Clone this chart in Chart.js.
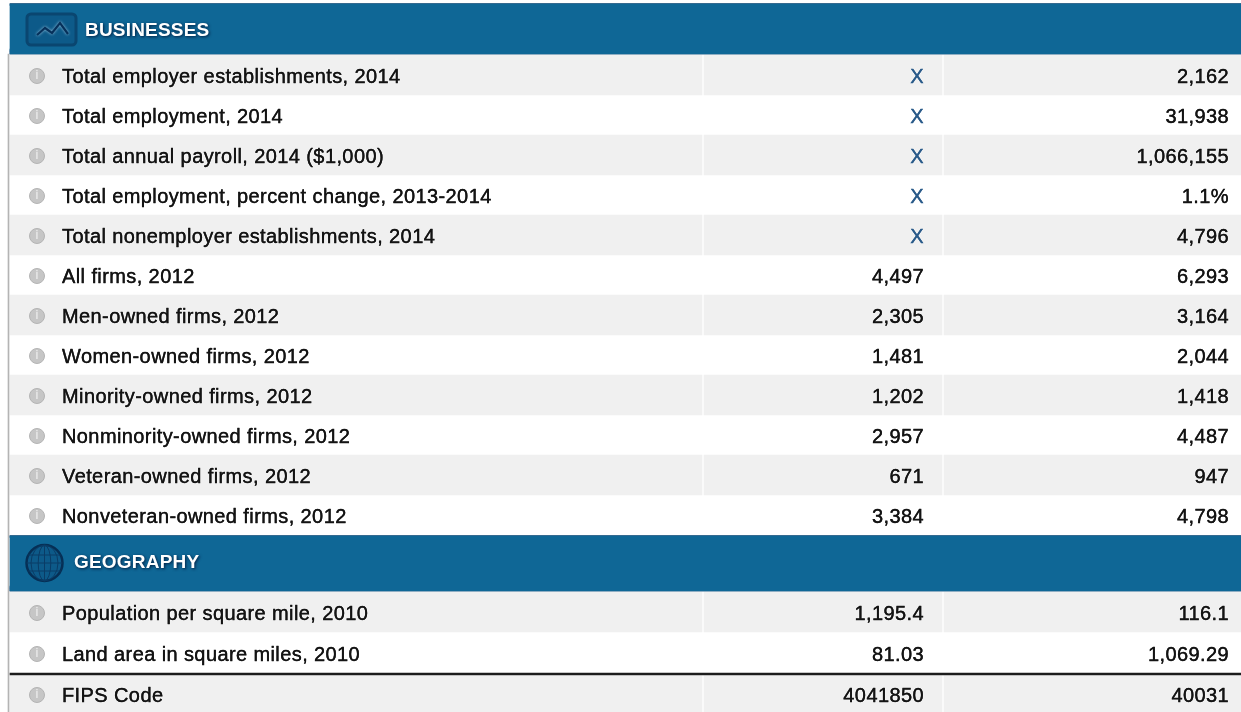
<!DOCTYPE html>
<html>
<head>
<meta charset="utf-8">
<title>Businesses and geography</title>
<script src="https://cdn.jsdelivr.net/npm/chart.js@4"></script>
<style>
    html, body { margin: 0; padding: 0; background: #fff; overflow: hidden; }
    canvas { display: block; filter: blur(0.45px); }
</style>
</head>
<body>
<canvas id="grafico" width="1241" height="712"></canvas>
<script>
// Dati della tabella
const sectionTitles = ['BUSINESSES', 'GEOGRAPHY'];
const rowLabels = [
    'Total employer establishments, 2014',
    'Total employment, 2014',
    'Total annual payroll, 2014 ($1,000)',
    'Total employment, percent change, 2013-2014',
    'Total nonemployer establishments, 2014',
    'All firms, 2012',
    'Men-owned firms, 2012',
    'Women-owned firms, 2012',
    'Minority-owned firms, 2012',
    'Nonminority-owned firms, 2012',
    'Veteran-owned firms, 2012',
    'Nonveteran-owned firms, 2012',
    'Population per square mile, 2010',
    'Land area in square miles, 2010',
    'FIPS Code'
];
const firstValues = ['X', 'X', 'X', 'X', 'X', '4,497', '2,305', '1,481', '1,202', '2,957', '671', '3,384', '1,195.4', '81.03', '4041850'];
const secondValues = ['2,162', '31,938', '1,066,155', '1.1%', '4,796', '6,293', '3,164', '2,044', '1,418', '4,487', '947', '4,798', '116.1', '1,069.29', '40031'];

// Griglia della pagina (unita degli assi = pixel)
const PAGE_W = 1241, PAGE_H = 712;
const ROW_H = 40;
const columns = [[10, 702], [704, 942], [944, PAGE_W]];
const LABEL_X = 62, ICON_X = 37, FIRST_RIGHT = 924, SECOND_RIGHT = 1229;
const headerBands = [{ top: 4, bottom: 54 }, { top: 536, bottom: 591 }];

// Centro verticale di ogni riga
function rowCenter(i) {
    if (i < 12) return 75 + ROW_H * i;
    if (i === 12) return 612;
    if (i === 13) return 653;
    return 694;
}

function bandDataset(rows, thickness, color, order) {
    const data = [];
    rows.forEach(y => columns.forEach(c => data.push({ x: c, y: y })));
    return { type: 'bar', data, barThickness: thickness, backgroundColor: color, grouped: false, order };
}

function fullWidth(y, thickness, color) {
    return {
        type: 'bar', data: [{ x: [10, PAGE_W], y }], barThickness: thickness,
        backgroundColor: color, grouped: false, order: 3
    };
}

const grayRows = [];
rowLabels.forEach((l, i) => { if (i % 2 === 0) grayRows.push(rowCenter(i)); });

const datasets = [
    bandDataset(grayRows.filter(y => y !== rowCenter(14)), ROW_H, '#f0f0f0', 5),
    // ultima riga: piu alta
    bandDataset([rowCenter(14)], 37, '#f0f0f0', 5),
    // riga nera sopra FIPS
    fullWidth(674, 2, '#1c1c1c')
];

// Bande blu con i bordi scuri
headerBands.forEach(b => {
    datasets.push(fullWidth((b.top + b.bottom) / 2, b.bottom - b.top, '#0f6796'));
    datasets.push(fullWidth(b.bottom - 1.5, 3, '#02285a'));
    datasets.push(fullWidth(b.bottom - 4, 2, '#0a4f80'));
    datasets.push(fullWidth(b.top + 0.5, 2, '#033a68'));
});

// Bordo sinistro
datasets.push({
    type: 'bar', data: [{ x: [8, 9], y: 383 }], barThickness: 658,
    backgroundColor: '#b4b4b4', grouped: false, order: 3
});

// Icone informazioni
datasets.push({
    type: 'scatter',
    data: rowLabels.map((l, i) => ({ x: ICON_X, y: rowCenter(i) + 1 })),
    pointRadius: 7.5,
    pointBackgroundColor: '#c6c6c6',
    pointBorderColor: '#b4b4b4',
    pointBorderWidth: 1,
    order: 1
});

function drawWaveIcon(ctx, x, y) {
    ctx.save();
    ctx.fillStyle = '#0d5a89';
    ctx.strokeStyle = '#0a4670';
    ctx.lineWidth = 3;
    ctx.beginPath();
    ctx.roundRect(x(27), y(14), 49, 31, 4);
    ctx.fill();
    ctx.stroke();
    ctx.shadowColor = 'rgba(190,225,245,0.8)';
    ctx.shadowBlur = 3;
    ctx.strokeStyle = '#06305a';
    ctx.lineWidth = 2.2;
    ctx.beginPath();
    ctx.moveTo(x(37), y(35));
    ctx.lineTo(x(45), y(28));
    ctx.lineTo(x(52), y(33));
    ctx.lineTo(x(60), y(23));
    ctx.lineTo(x(68), y(34));
    ctx.stroke();
    ctx.restore();
}

function drawGlobeIcon(ctx, x, y) {
    const cx = x(44.5), cy = y(563), r = 18;
    ctx.save();
    ctx.fillStyle = '#0d5a89';
    ctx.strokeStyle = '#062f55';
    ctx.lineWidth = 2.5;
    ctx.beginPath();
    ctx.arc(cx, cy, r, 0, Math.PI * 2);
    ctx.fill();
    ctx.stroke();
    ctx.lineWidth = 1;
    ctx.strokeStyle = '#0a3c66';
    [-8, 0, 8].forEach(d => {
        const w = Math.sqrt(r * r - d * d);
        ctx.beginPath();
        ctx.moveTo(cx - w, cy + d);
        ctx.lineTo(cx + w, cy + d);
        ctx.stroke();
    });
    [0.35, 0.75].forEach(k => {
        ctx.beginPath();
        ctx.ellipse(cx, cy, r * k, r, 0, 0, Math.PI * 2);
        ctx.stroke();
    });
    ctx.beginPath();
    ctx.moveTo(cx, cy - r);
    ctx.lineTo(cx, cy + r);
    ctx.stroke();
    ctx.restore();
}

// Testo con alone chiaro e tratto sottile, come nella scansione originale
function cellText(ctx, text, x, y, color) {
    ctx.fillStyle = color;
    ctx.strokeStyle = color;
    ctx.lineWidth = 0.3;
    ctx.shadowColor = 'rgba(255,255,255,0.9)';
    ctx.shadowBlur = 2;
    ctx.fillText(text, x, y);
    ctx.shadowColor = 'transparent';
    ctx.fillText(text, x, y);
    ctx.strokeText(text, x, y);
}

// Testo delle celle, posizionato con le scale del grafico
const tableText = {
    id: 'tableText',
    afterDatasetsDraw(chart) {
        const ctx = chart.ctx;
        const xs = v => chart.scales.x.getPixelForValue(v);
        const ys = v => chart.scales.y.getPixelForValue(v);
        ctx.save();
        ctx.textBaseline = 'middle';

        // i bianca dentro le icone
        ctx.fillStyle = '#e4e4e4';
        ctx.font = 'bold 12px "Liberation Sans"';
        ctx.textAlign = 'center';
        rowLabels.forEach((l, i) => ctx.fillText('i', xs(ICON_X), ys(rowCenter(i) + 1)));

        ctx.font = '20px "Liberation Sans"';
        ctx.letterSpacing = '0.4px';
        rowLabels.forEach((label, i) => {
            const y = ys(rowCenter(i) + 2.3);
            ctx.textAlign = 'left';
            cellText(ctx, label, xs(LABEL_X), y, '#141414');
            ctx.textAlign = 'right';
            cellText(ctx, firstValues[i], xs(FIRST_RIGHT), y, firstValues[i] === 'X' ? '#2b5b8a' : '#141414');
            cellText(ctx, secondValues[i], xs(SECOND_RIGHT), y, '#141414');
        });

        // Titoli delle sezioni
        ctx.shadowColor = 'rgba(0,25,60,0.95)';
        ctx.shadowBlur = 3;
        ctx.shadowOffsetX = 1;
        ctx.shadowOffsetY = 1;
        ctx.letterSpacing = '0.2px';
        ctx.font = 'bold 19px "Liberation Sans"';
        ctx.textAlign = 'left';
        ctx.fillStyle = '#ffffff';
        ctx.fillText(sectionTitles[0], xs(85), ys(31));
        ctx.fillText(sectionTitles[1], xs(74), ys(563));
        ctx.restore();

        drawWaveIcon(ctx, xs, ys);
        drawGlobeIcon(ctx, xs, ys);
    }
};

new Chart(document.getElementById('grafico'), {
    type: 'bar',
    data: { datasets },
    options: {
        indexAxis: 'y',
        responsive: false,
        animation: false,
        layout: { padding: 0, autoPadding: false },
        plugins: { legend: { display: false }, tooltip: { enabled: false } },
        scales: {
            x: { type: 'linear', min: 0, max: PAGE_W, display: false, offset: false },
            y: { type: 'linear', min: 0, max: PAGE_H, reverse: true, display: false, offset: false }
        }
    },
    plugins: [tableText]
});
</script>
</body>
</html>
